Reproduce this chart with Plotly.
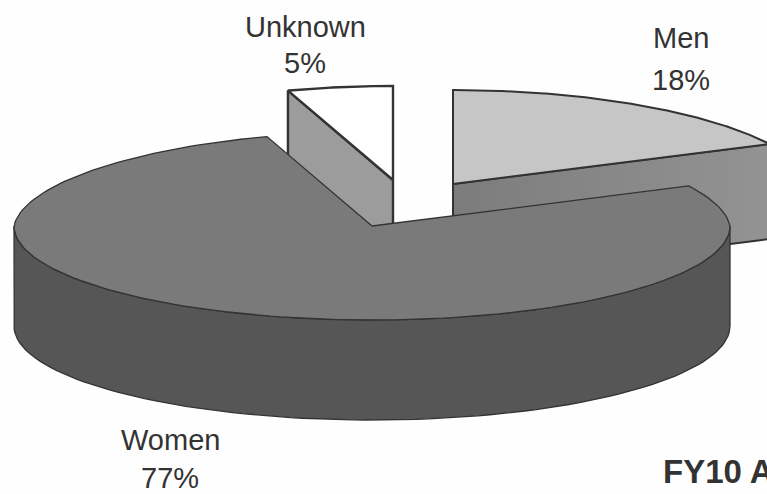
import numpy as np
import plotly.graph_objects as go

# Share of the total per group, clockwise from twelve o'clock
categories = ["Men", "Women", "Unknown"]
shares = [18, 77, 5]
footer_text = "FY10 A"

# Layout of the tilted, exploded pie (page units)
GEOM = {
    "Men": dict(cx=453, cy=184, depth=95, edge=2.0),
    "Women": dict(cx=372, cy=226, depth=100, edge=1.3),
    "Unknown": dict(cx=393, cy=180, depth=100, edge=2.4),
}
RX, RY = 358, 94
NARROWING = 0.053  # the far side of the disc looks slightly narrower
OUTLINE = "#333333"
TOP_FILL = {"Men": "#c6c6c6", "Women": "#7a7a7a", "Unknown": "#ffffff"}
WALL_FILL = "#565656"
LABEL_POS = {"Men": (681, 38, 80), "Women": (170, 440, 478), "Unknown": (305, 27, 63)}


def rim(name, a0, a1, drop=0, n=90):
    """Points on a slice's elliptical edge between two clockwise angles in degrees."""
    g = GEOM[name]
    t = np.radians(np.linspace(a0, a1, n))
    squeeze = 1 - NARROWING * np.clip(np.cos(t), 0, None)
    return g["cx"] + RX * squeeze * np.sin(t), g["cy"] - RY * np.cos(t) + drop


def poly(x, y, name, **fill):
    return go.Scatter(
        x=np.append(x, x[0]), y=np.append(y, y[0]), mode="lines", fill="toself",
        line=dict(color=OUTLINE, width=GEOM[name]["edge"]), hoverinfo="skip",
        showlegend=False, **fill,
    )


# Angular span of every slice comes from the shares
edges = np.cumsum([0] + shares) / sum(shares) * 360
span = {c: (edges[i], edges[i + 1]) for i, c in enumerate(categories)}

fig = go.Figure()


def cut_face(name, angle, **fill):
    g = GEOM[name]
    px, py = rim(name, angle, angle, n=1)
    x = np.array([g["cx"], px[0], px[0], g["cx"]])
    y = np.array([g["cy"], py[0], py[0] + g["depth"], g["cy"] + g["depth"]])
    return poly(x, y, name, **fill)


def top_face(name):
    g = GEOM[name]
    x, y = rim(name, *span[name], n=180)
    return poly(np.append(g["cx"], x), np.append(g["cy"], y), name, fillcolor=TOP_FILL[name])


# Back slices first; the large slice sits over them
fig.add_trace(cut_face(
    "Men", span["Men"][1],
    fillgradient=dict(type="horizontal", colorscale=[[0, "#7c7c7c"], [1, "#939393"]]),
))
fig.add_trace(top_face("Men"))
fig.add_trace(cut_face("Unknown", span["Unknown"][0], fillcolor="#9c9c9c"))
fig.add_trace(top_face("Unknown"))

# Curved front wall of the large slice, then its top
wx0, wy0 = rim("Women", 90, 270)
wx1, wy1 = rim("Women", 270, 90, drop=GEOM["Women"]["depth"])
fig.add_trace(poly(np.append(wx0, wx1), np.append(wy0, wy1), "Women", fillcolor=WALL_FILL))
fig.add_trace(top_face("Women"))

TEXT = dict(family="Liberation Sans, Arial, sans-serif", size=29, color="#333333")
for name, share in zip(categories, shares):
    x, y_name, y_pct = LABEL_POS[name]
    for y, txt in ((y_name, name), (y_pct, f"{share}%")):
        fig.add_annotation(x=x, y=y, text=txt, showarrow=False, font=TEXT,
                           xanchor="center", yanchor="middle")

fig.add_annotation(x=661, y=471, text=f"<b>{footer_text}</b>", showarrow=False,
                   xanchor="left", yanchor="middle",
                   font=dict(family="Liberation Sans, Arial, sans-serif", size=33, color="#333333"))

fig.update_layout(
    width=767, height=494, margin=dict(l=0, r=0, t=0, b=0),
    paper_bgcolor="#fefefe", plot_bgcolor="#fefefe",
    xaxis=dict(range=[0, 767], visible=False, fixedrange=True),
    yaxis=dict(range=[494, 0], visible=False, fixedrange=True),
)
fig.write_html("out.html", config=dict(displayModeBar=False))
